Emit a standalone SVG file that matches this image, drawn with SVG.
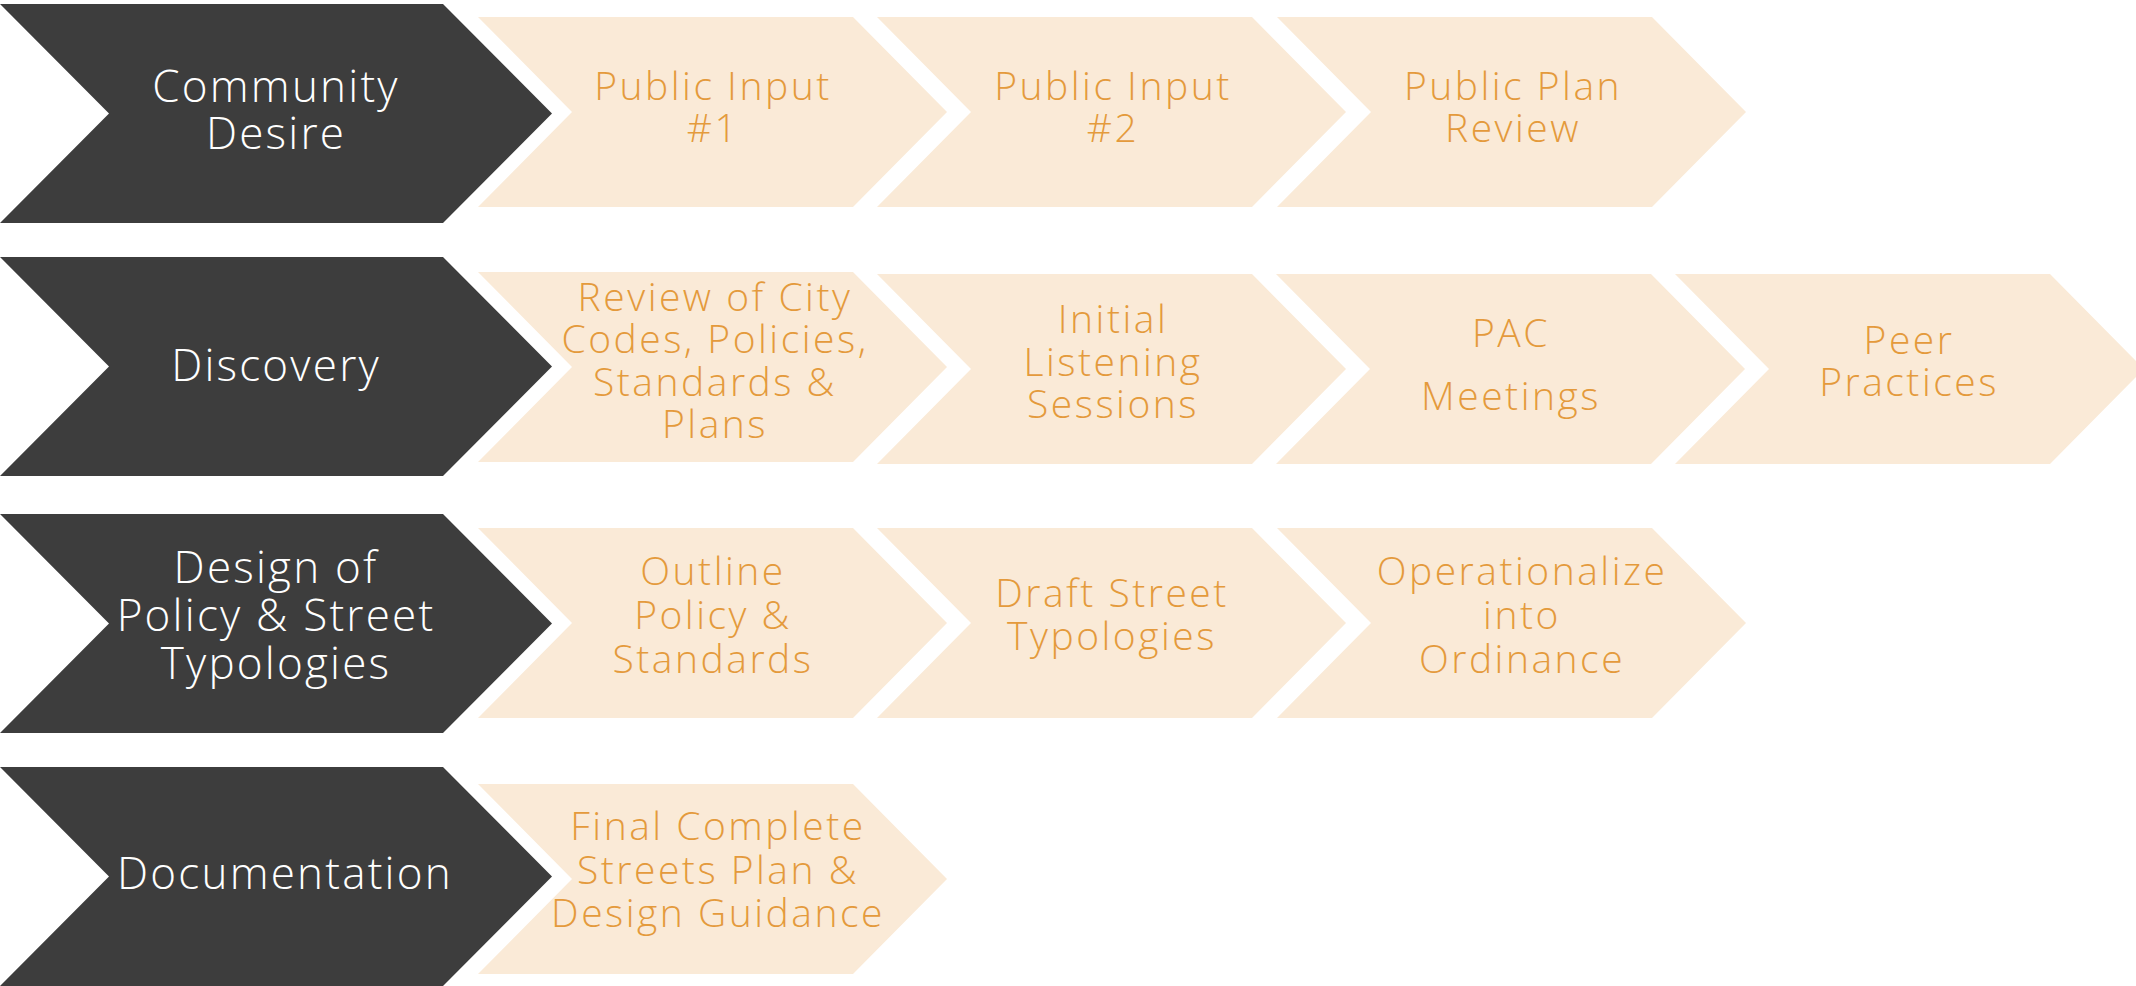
<svg xmlns="http://www.w3.org/2000/svg" width="2136" height="986" viewBox="0 0 2136 986">
  <defs>
    <!-- phase chevron (dark) and step chevron (light), drawn at origin -->
    <polygon id="phase" points="0,0 443,0 552,109.5 443,219 0,219 109,109.5"/>
    <polygon id="step" points="0,0 375,0 469,95 375,190 0,190 94,95"/>
  </defs>
  <style>
    .phase { fill: #3d3d3d; }
    .step { fill: #faead7; }
    .ptxt { font-family: "Open Sans", "Liberation Sans", sans-serif; font-weight: 300; font-size: 44px; letter-spacing: 2.2px; fill: #ffffff; text-anchor: middle; }
    .stxt { font-family: "Open Sans", "Liberation Sans", sans-serif; font-weight: 300; font-size: 39px; letter-spacing: 2.5px; fill: #e49a3c; text-anchor: middle; }
  </style>
  <rect width="2136" height="986" fill="#ffffff"/>

  <!-- Row 1: Community Desire -->
  <g id="community-desire">
    <use href="#phase" class="phase" x="0" y="4"/>
    <text class="ptxt"><tspan x="276" y="102">Community</tspan><tspan x="276" y="149">Desire</tspan></text>
  </g>
  <g id="public-input-1">
    <use href="#step" class="step" x="478" y="17"/>
    <text class="stxt"><tspan x="713" y="100">Public Input</tspan><tspan x="713" y="142">#1</tspan></text>
  </g>
  <g id="public-input-2">
    <use href="#step" class="step" x="877" y="17"/>
    <text class="stxt"><tspan x="1113" y="100">Public Input</tspan><tspan x="1113" y="142">#2</tspan></text>
  </g>
  <g id="public-plan-review">
    <use href="#step" class="step" x="1277" y="17"/>
    <text class="stxt"><tspan x="1513" y="100">Public Plan</tspan><tspan x="1513" y="142">Review</tspan></text>
  </g>

  <!-- Row 2: Discovery -->
  <g id="discovery">
    <use href="#phase" class="phase" x="0" y="257"/>
    <text class="ptxt" x="276" y="381">Discovery</text>
  </g>
  <g id="review-codes">
    <use href="#step" class="step" x="478" y="272"/>
    <text class="stxt"><tspan x="715" y="311">Review of City</tspan><tspan x="715" y="353">Codes, Policies,</tspan><tspan x="715" y="396">Standards &amp;</tspan><tspan x="715" y="438">Plans</tspan></text>
  </g>
  <g id="listening-sessions">
    <use href="#step" class="step" x="877" y="274"/>
    <text class="stxt"><tspan x="1113" y="333">Initial</tspan><tspan x="1113" y="376">Listening</tspan><tspan x="1113" y="418">Sessions</tspan></text>
  </g>
  <g id="pac-meetings">
    <use href="#step" class="step" x="1276" y="274"/>
    <text class="stxt"><tspan x="1511" y="347">PAC</tspan><tspan x="1511" y="410">Meetings</tspan></text>
  </g>
  <g id="peer-practices">
    <use href="#step" class="step" x="1675" y="274"/>
    <text class="stxt"><tspan x="1909" y="354">Peer</tspan><tspan x="1909" y="396">Practices</tspan></text>
  </g>

  <!-- Row 3: Design of Policy & Street Typologies -->
  <g id="design-policy">
    <use href="#phase" class="phase" x="0" y="514"/>
    <text class="ptxt"><tspan x="276" y="583">Design of</tspan><tspan x="276" y="631">Policy &amp; Street</tspan><tspan x="276" y="679">Typologies</tspan></text>
  </g>
  <g id="outline-policy">
    <use href="#step" class="step" x="478" y="528"/>
    <text class="stxt"><tspan x="713" y="585">Outline</tspan><tspan x="713" y="629">Policy &amp;</tspan><tspan x="713" y="673">Standards</tspan></text>
  </g>
  <g id="draft-typologies">
    <use href="#step" class="step" x="877" y="528"/>
    <text class="stxt"><tspan x="1112" y="607">Draft Street</tspan><tspan x="1112" y="650">Typologies</tspan></text>
  </g>
  <g id="operationalize">
    <use href="#step" class="step" x="1277" y="528"/>
    <text class="stxt"><tspan x="1522" y="585">Operationalize</tspan><tspan x="1522" y="629">into</tspan><tspan x="1522" y="673">Ordinance</tspan></text>
  </g>

  <!-- Row 4: Documentation -->
  <g id="documentation">
    <use href="#phase" class="phase" x="0" y="767"/>
    <text class="ptxt" x="285" y="889">Documentation</text>
  </g>
  <g id="final-plan">
    <use href="#step" class="step" x="478" y="784"/>
    <text class="stxt"><tspan x="718" y="840">Final Complete</tspan><tspan x="718" y="884">Streets Plan &amp;</tspan><tspan x="718" y="927">Design Guidance</tspan></text>
  </g>

  <!-- no connectors: the chevrons abut one another -->
  <g id="connectors"/>
</svg>
